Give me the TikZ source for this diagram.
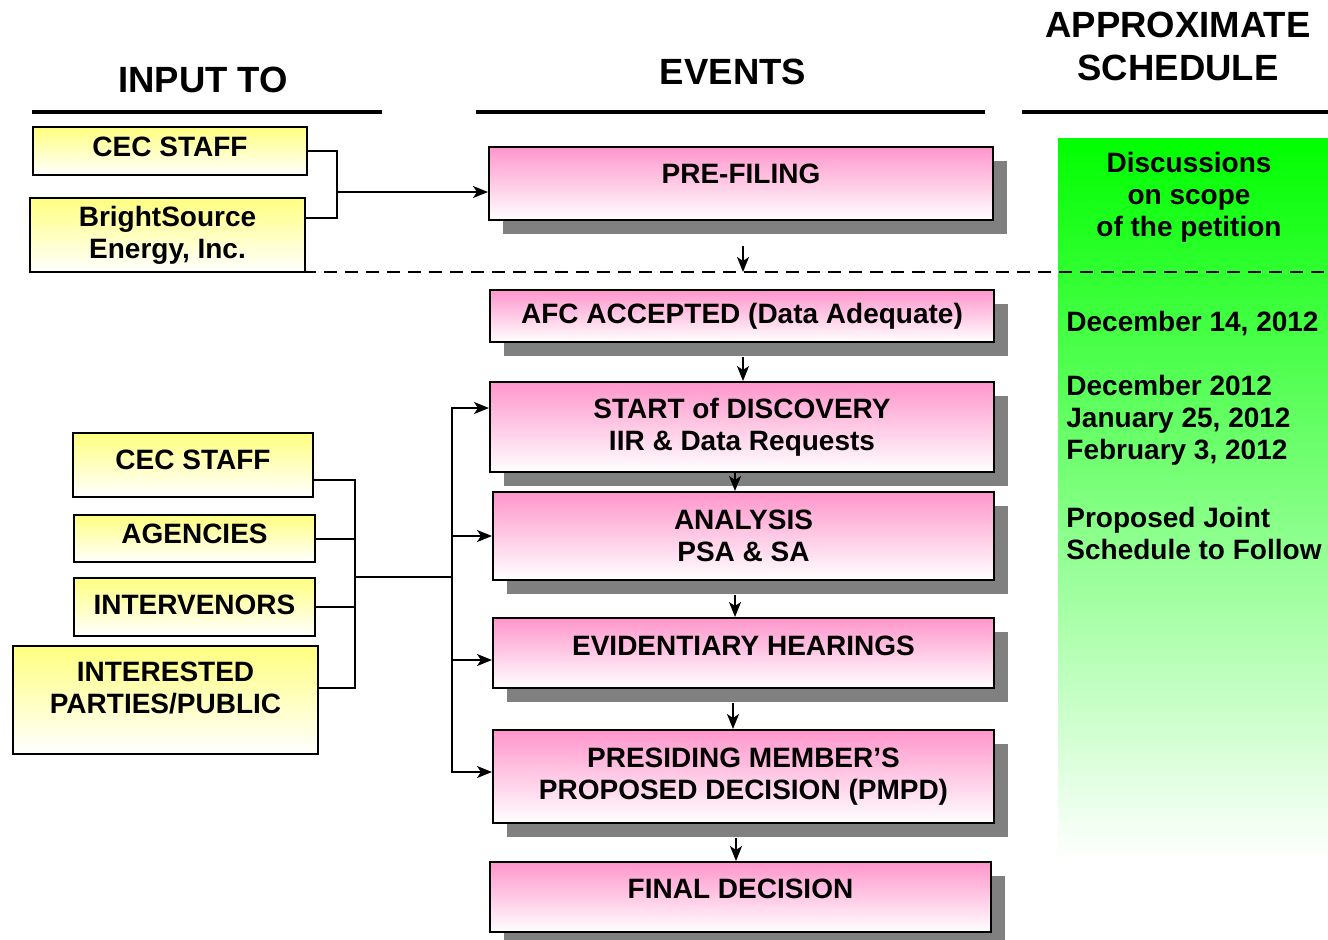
\documentclass[tikz,border=0pt]{standalone}
\usepackage{fontspec}
\setmainfont{Liberation Sans}
\usetikzlibrary{arrows.meta,shadows}
\definecolor{pinkfill}{RGB}{255,150,204}
\definecolor{yellowfill}{RGB}{255,255,128}
\definecolor{greenfill}{RGB}{0,255,0}
\begin{document}
\begin{tikzpicture}[x=0.5pt,y=-0.5pt,
  font=\bfseries\fontsize{14}{16}\selectfont,
  event node/.style={draw,line width=1pt,inner sep=0pt,align=center,
    top color=pinkfill,bottom color=white,
    drop shadow={shadow xshift=7pt,shadow yshift=-7pt,fill=black!50,opacity=1}},
  input node/.style={draw,line width=1pt,inner sep=0pt,align=center,
    top color=yellowfill,bottom color=white},
  head node/.style={font=\bfseries\fontsize{18.25}{21.5}\selectfont,align=center},
  date node/.style={anchor=west,align=left,inner sep=0pt},
  flow/.style={-{Stealth[length=7.5pt,width=6pt,inset=2pt]},line width=1pt},
  link/.style={line width=1pt}]

  \useasboundingbox (0,0) rectangle (1328,939);

  % schedule column
  \shade[top color=greenfill,middle color=greenfill!30,bottom color=white]
    (1058,138) rectangle (1328,860);

  % headings
  \node[head node] (h1) at (203,80) {INPUT TO};
  \node[head node] (h2) at (733,72) {EVENTS};
  \node[head node] (h3) at (1178,46) {APPROXIMATE\\SCHEDULE};
  \draw[line width=2pt] (32,112) -- (382,112);
  \draw[line width=2pt] (476,112) -- (985,112);
  \draw[line width=2pt] (1022,112) -- (1328,112);

  \draw[line width=1pt,dash pattern=on 6.5pt off 4pt] (30,272) -- (1328,272);

  % events
  \node[event node,minimum width=252pt,minimum height=36.5pt,text height=10pt,text depth=10.5pt] (pre) at (741,183.5) {PRE-FILING};
  \node[event node,minimum width=252pt,minimum height=26pt] (afc) at (742,316) {AFC ACCEPTED (Data Adequate)};
  \node[event node,minimum width=252pt,minimum height=45pt] (start) at (742,427) {START of DISCOVERY\\IIR \& Data Requests};
  \node[event node,minimum width=250.5pt,minimum height=44pt] (analysis) at (743.5,536) {ANALYSIS\\PSA \& SA};
  \node[event node,minimum width=250.5pt,minimum height=35pt,text height=10pt,text depth=8pt] (evid) at (743.5,653) {EVIDENTIARY HEARINGS};
  \node[event node,minimum width=250.5pt,minimum height=46.5pt] (presiding) at (743.5,776.5) {PRESIDING MEMBER’S\\PROPOSED DECISION (PMPD)};
  \node[event node,minimum width=250.5pt,minimum height=35pt,text height=10pt,text depth=9pt] (final) at (740.5,897) {FINAL DECISION};

  % inputs
  \node[input node,minimum width=137pt,minimum height=24pt,text height=10pt,text depth=5pt] (cec1) at (170,151) {CEC STAFF};
  \node[input node,minimum width=137.5pt,minimum height=37pt] (bright) at (167.5,235) {BrightSource\\Energy, Inc.};
  \node[input node,minimum width=120pt,minimum height=32pt,text height=10pt,text depth=6pt] (cec2) at (193,465) {CEC STAFF};
  \node[input node,minimum width=120.5pt,minimum height=23.5pt,text height=10pt,text depth=5pt] (agencies) at (194.5,538.5) {AGENCIES};
  \node[input node,minimum width=120.5pt,minimum height=29pt,text height=10pt,text depth=3pt] (intervenors) at (194.5,607) {INTERVENORS};
  \node[input node,minimum width=152.5pt,minimum height=54pt] (interested) at (165.5,700) {INTERESTED\\PARTIES/PUBLIC\\[-4pt]~};

  % schedule
  \node[align=center] (scope) at (1189,197) {Discussions\\on scope\\of the petition};
  \node[date node] (d1) at (1066,324) {December 14, 2012};
  \node[date node] (d2) at (1066,420) {December 2012\\January 25, 2012\\February 3, 2012};
  \node[date node] (d3) at (1066,533) {Proposed Joint\\Schedule to Follow};

  % connectors
  \coordinate (j1) at (337,192);
  \coordinate (j2) at (355,577);
  \coordinate (j3) at (452,577);

  \draw[link] (cec1.east) -| (j1) |- ([yshift=8.5pt]bright.east);
  \draw[flow] (j1) -- (j1 -| pre.west);

  \draw[link] ([yshift=-7.5pt]cec2.east) -| (j2) |- ([yshift=6pt]interested.east);
  \draw[link] (agencies.east) -- (agencies.east -| j2);
  \draw[link] (intervenors.east) -- (intervenors.east -| j2);
  \draw[link] (j2) -- (j3);
  \draw[flow] (j3) |- ([yshift=9.5pt]start.west);
  \draw[flow] (j3) |- (analysis.west);
  \draw[flow] (j3) |- ([yshift=-3.5pt]evid.west);
  \draw[flow] (j3) |- ([yshift=2.25pt]presiding.west);

  \draw[flow] ([xshift=1pt,yshift=-12.5pt]pre.south) -- ([xshift=1pt,yshift=-25.5pt]pre.south);
  \draw[flow] ([xshift=0.5pt,yshift=-7pt]afc.south) -- ([xshift=0.5pt]afc.south |- start.north);
  \draw[flow] ([xshift=-3.5pt]start.south) -- ([xshift=-3.5pt]start.south |- analysis.north);
  \draw[flow] ([xshift=-4.25pt,yshift=-7pt]analysis.south) -- ([xshift=-4.25pt]analysis.south |- evid.north);
  \draw[flow] ([xshift=-5.25pt,yshift=-7pt]evid.south) -- ([xshift=-5.25pt]evid.south |- presiding.north);
  \draw[flow] ([xshift=-3.75pt,yshift=-7pt]presiding.south) -- ([xshift=-3.75pt]presiding.south |- final.north);
\end{tikzpicture}
\end{document}
